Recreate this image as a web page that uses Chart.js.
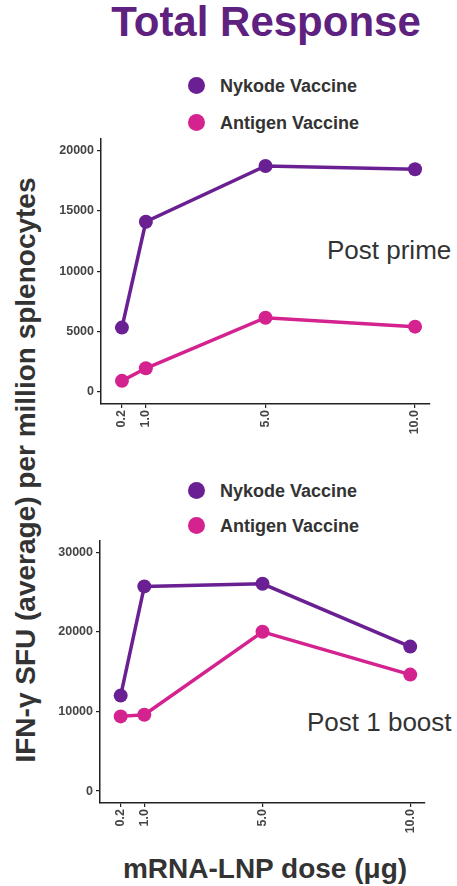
<!DOCTYPE html>
<html>
<head>
<meta charset="utf-8">
<script src="https://cdn.jsdelivr.net/npm/chart.js@4"></script>
<style>
  body { margin: 0; width: 457px; height: 886px; background: #fff; position: relative; overflow: hidden;
         font-family: "Liberation Sans", Arial, sans-serif; }
  .abs { position: absolute; white-space: nowrap; line-height: 1; }
  #title { left: 0; width: 532px; top: 1px; text-align: center; font-size: 42px; font-weight: bold; color: #5e2180; }
  #ytitle { left: 0; top: 0; width: 620px; height: 28px; text-align: center; font-size: 28px; font-weight: bold; color: #333;
            transform: translate(-284.5px, 456px) rotate(-90deg); }
  #xtitle { left: 0; width: 530px; top: 855px; text-align: center; font-size: 28px; font-weight: bold; color: #333; }
  .leg { font-size: 18px; font-weight: bold; color: #333; }
  .dot { position: absolute; width: 17px; height: 17px; border-radius: 50%; }
  .note { font-size: 26px; color: #333; }
  canvas { position: absolute; }
</style>
</head>
<body>
<div id="title" class="abs">Total Response</div>
<div id="ytitle" class="abs">IFN-γ SFU (average) per million splenocytes</div>
<div id="xtitle" class="abs">mRNA-LNP dose (μg)</div>

<div class="dot" style="left:188px;top:77px;background:#6a2092"></div>
<div class="abs leg" style="left:220px;top:77px">Nykode Vaccine</div>
<div class="dot" style="left:188px;top:114px;background:#d4228f"></div>
<div class="abs leg" style="left:220px;top:114px">Antigen Vaccine</div>
<div class="dot" style="left:188px;top:482px;background:#6a2092"></div>
<div class="abs leg" style="left:220px;top:482px">Nykode Vaccine</div>
<div class="dot" style="left:188px;top:517px;background:#d4228f"></div>
<div class="abs leg" style="left:220px;top:517px">Antigen Vaccine</div>

<div class="abs note" style="left:327px;top:237px">Post prime</div>
<div class="abs note" style="left:307px;top:709px">Post 1 boost</div>

<canvas id="prime" width="387" height="336" style="left:50px;top:128px;width:387px;height:336px"></canvas>
<canvas id="boost" width="383" height="333" style="left:49px;top:530px;width:383px;height:333px"></canvas>

<script>
// doses in ug
const doses = [0.2, 1.0, 5.0, 10.0];
const doseLabels = ['0.2', '1.0', '5.0', '10.0'];

// post prime
const primeNykode = [5330, 14100, 18720, 18450];
const primeAntigen = [920, 1960, 6150, 5410];
const primeTicks = [0, 5000, 10000, 15000, 20000];

// post 1 boost
const boostNykode = [12000, 25730, 26060, 18160];
const boostAntigen = [9390, 9600, 20020, 14640];
const boostTicks = [0, 10000, 20000, 30000];

const nykodeColor = '#6a2092';
const antigenColor = '#d4228f';

function series(label, ys, color) {
  return {
    label: label,
    data: doses.map((d, i) => ({x: d, y: ys[i]})),
    borderColor: color,
    backgroundColor: color,
    borderWidth: 3.5,
    pointRadius: 7,
    pointHoverRadius: 7,
    pointBorderWidth: 0,
    clip: false
  };
}

function makeChart(id, nyk, ant, yTicks, yMin, yMax) {
  return new Chart(document.getElementById(id), {
    type: 'line',
    data: {
      datasets: [series('Antigen Vaccine', ant, antigenColor), series('Nykode Vaccine', nyk, nykodeColor)]
    },
    options: {
      responsive: false,
      animation: false,
      layout: {padding: {top: 5, right: 0, left: 0, bottom: 0}},
      plugins: {legend: {display: false}, tooltip: {enabled: false}},
      scales: {
        x: {
          type: 'linear',
          min: -0.5, max: 10.5,
          afterBuildTicks: s => { s.ticks = doses.map(v => ({value: v})); },
          afterFit: s => { s.height = 60; },
          grid: {drawOnChartArea: false, drawTicks: true, tickLength: 4, color: '#222', lineWidth: 1.2},
          border: {color: '#222', width: 1.5},
          ticks: {
            minRotation: 90, maxRotation: 90, autoSkip: false, padding: 2,
            color: '#444', font: {family: 'Liberation Sans', size: 12.5, weight: 'bold'},
            callback: v => doseLabels[doses.indexOf(v)]
          }
        },
        y: {
          min: yMin, max: yMax,
          afterBuildTicks: s => { s.ticks = yTicks.map(v => ({value: v})); },
          afterFit: s => { s.width = 51; },
          grid: {drawOnChartArea: false, drawTicks: true, tickLength: 4, color: '#222', lineWidth: 1.2},
          border: {color: '#222', width: 1.5},
          ticks: {
            padding: 3, color: '#444', font: {family: 'Liberation Sans', size: 12.5, weight: 'bold'},
            callback: v => String(v)
          }
        }
      }
    }
  });
}

makeChart('prime', primeNykode, primeAntigen, primeTicks, -1000, 21000);
makeChart('boost', boostNykode, boostAntigen, boostTicks, -1500, 31500);
</script>
</body>
</html>
